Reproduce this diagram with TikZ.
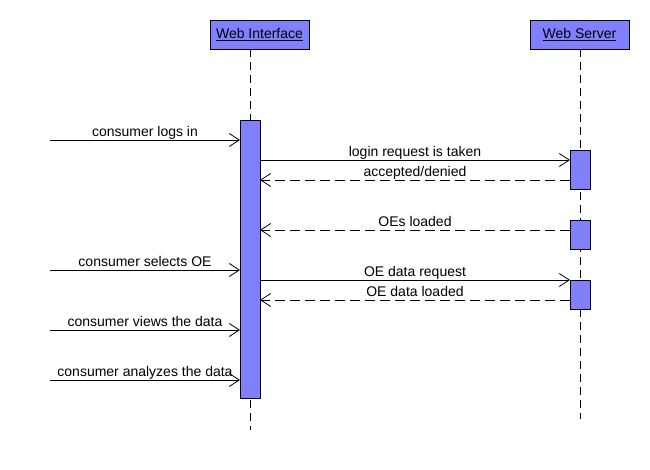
\documentclass[tikz,border=0pt]{standalone}
\usepackage{fontspec}
\setmainfont{Liberation Sans}
\usetikzlibrary{arrows.meta}
\definecolor{actfill}{HTML}{8080FF}
\tikzset{
  x=1pt, y=-1pt,
  lbl/.style={font=\fontsize{14}{16}\selectfont, inner sep=0pt, anchor=base, yshift=3.5pt},
  head/.style={draw, fill=actfill, line width=0.8pt, minimum width=99pt, minimum height=29pt, inner sep=0pt, font=\fontsize{14}{16}\selectfont},
  actbar/.style={draw, fill=actfill, line width=0.8pt},
  lifeline/.style={line width=0.8pt, dash pattern=on 8pt off 5pt},
  msg/.style={line width=0.8pt, -{Straight Barb[length=10pt,width=13pt,line width=0.8pt]}},
  ret/.style={msg, dash pattern=on 10pt off 5pt},
}
\begin{document}
\begin{tikzpicture}
\useasboundingbox (0,0) rectangle (650,470);
% headers
\node[head] (wi) at (259.5,34.5) {\underline{Web Interface}};
\node[head] (ws) at (579.5,34.5) {\underline{Web Server}};
% lifeline coordinates
\coordinate (wiEnd) at (250,430);
\coordinate (wsEnd) at (580,419);
\draw[lifeline] (wi.south -| wiEnd) -- (wiEnd);
\draw[lifeline] (ws.south -| wsEnd) -- (wsEnd);
% activation bars
\path[actbar] (240,120) rectangle (260,398);
\coordinate (A) at (240,0);
\coordinate (B) at (260,0);
\path[actbar] (570,150) rectangle (590,189);
\path[actbar] (570,220) rectangle (590,249);
\path[actbar] (570,280) rectangle (590,309);
\coordinate (C) at (570,0);
% free ends on the left
\coordinate (s1) at (50,140);
\coordinate (s2) at (50,270);
\coordinate (s3) at (50,330);
\coordinate (s4) at (50,380);
% incoming messages
\draw[msg] (s1) -- (s1 -| A) node[lbl, midway] {consumer logs in};
\draw[msg] (s2) -- (s2 -| A) node[lbl, midway] {consumer selects OE};
\draw[msg] (s3) -- (s3 -| A) node[lbl, midway] {consumer views the data};
\draw[msg] (s4) -- (s4 -| A) node[lbl, midway] {consumer analyzes the data};
% interface <-> server
\coordinate (m1) at (260,160);
\coordinate (m2) at (570,180);
\coordinate (m3) at (570,230);
\coordinate (m4) at (260,280);
\coordinate (m5) at (570,300);
\draw[msg] (m1) -- (m1 -| C) node[lbl, midway] {login request is taken};
\draw[ret] (m2) -- (m2 -| B) node[lbl, midway] {accepted/denied};
\draw[ret] (m3) -- (m3 -| B) node[lbl, midway] {OEs loaded};
\draw[msg] (m4) -- (m4 -| C) node[lbl, midway] {OE data request};
\draw[ret] (m5) -- (m5 -| B) node[lbl, midway] {OE data loaded};
\end{tikzpicture}
\end{document}
